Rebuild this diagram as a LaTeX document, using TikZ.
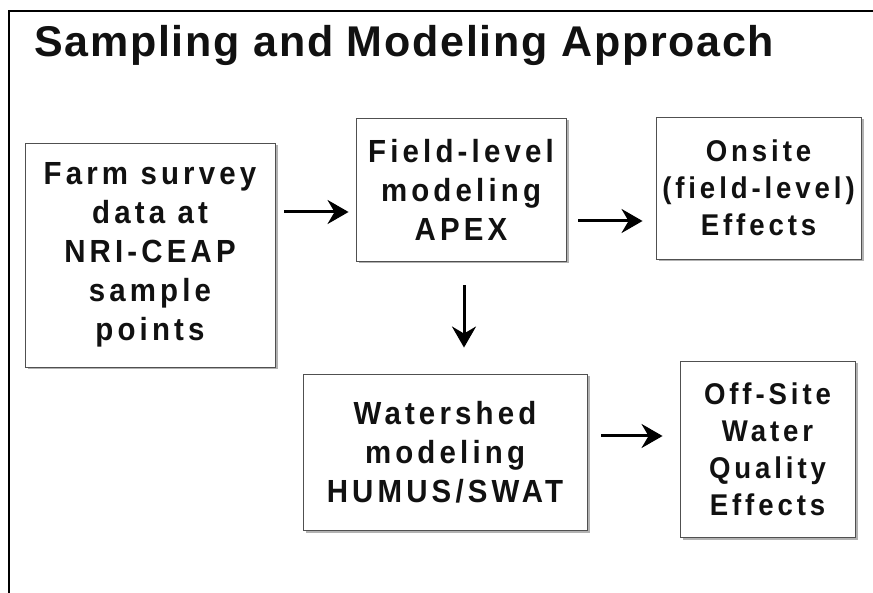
\documentclass[tikz,border=0pt]{standalone}
\usepackage{fontspec}
\setmainfont{Liberation Sans}
\newfontfamily\boxfont{Liberation Sans}[LetterSpace=13,FakeStretch=0.92]
\newfontfamily\titlefont{Liberation Sans}[LetterSpace=4]
\usepackage{tikz}
\usetikzlibrary{arrows.meta,positioning,shadows,calc}
\definecolor{edgegray}{HTML}{505050}
\definecolor{inkblack}{HTML}{111111}

\begin{document}
\begin{tikzpicture}[x=1pt,y=-1pt,
  stage/.style={draw=edgegray,line width=0.9pt,fill=white,align=center,
                inner sep=0pt,text=inkblack,
                font=\boxfont\bfseries\fontsize{32}{39}\selectfont,
                drop shadow={shadow xshift=2.5pt,shadow yshift=-2.5pt,
                             fill=black!60}},
  small/.style={font=\boxfont\bfseries\fontsize{30}{37}\selectfont},
  arr/.style={-{Stealth[length=21pt,width=24pt,inset=7pt]},line width=3pt},
  frameline/.style={line width=1.4pt}
]
\useasboundingbox (0,0) rectangle (873,593);

% ---- page frame and title
\draw[frameline] (873,11) -- (9,11) -- (9,593);
\node[anchor=base west,inner sep=0pt,text=inkblack,
      font=\titlefont\bfseries\fontsize{43}{50}\selectfont] (title) at (34,57)
  {Sampling and Modeling Approach};

% ---- top row
\node[stage,minimum width=250pt,minimum height=224pt] (farm) at (150,255)
  {Farm survey\\data at\\NRI-CEAP\\sample\\points};
\node[stage,minimum width=210pt,minimum height=143pt] (field) at (461,189.5)
  {Field-level\\modeling\\APEX};
\node[stage,small,minimum width=205pt,minimum height=142pt] (onsite) at (758.5,188)
  {Onsite\\(field-level)\\Effects};

% ---- bottom row
\node[stage,minimum width=284pt,minimum height=156pt] (shed) at (445,452)
  {Watershed\\modeling\\HUMUS/SWAT};
\node[stage,small,minimum width=175pt,minimum height=176pt] (offsite) at (767.5,449)
  {Off-Site\\Water\\Quality\\Effects};

% ---- arrows
\draw[arr] ($(farm.east)+(9,-43)$) -- ($(field.west |- farm.east)+(-7,-43)$);
\draw[arr] ($(field.east)+(12,31.5)$) -- ($(onsite.west |- field.east)+(-13,31.5)$);
\draw[arr] ($(field.south)+(3,24)$) -- ($(field.south |- shed.north)+(3,-26)$);
\draw[arr] ($(shed.east)+(14,-16)$) -- ($(offsite.west |- shed.east)+(-17,-16)$);
\end{tikzpicture}
\end{document}
